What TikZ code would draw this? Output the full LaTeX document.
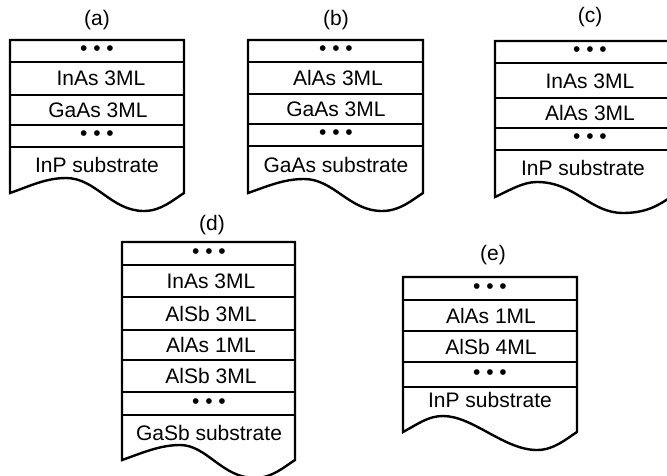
\documentclass[tikz,border=0pt]{standalone}
\usepackage{fontspec}
\setmainfont{Liberation Sans}
\usepackage{tikz}

\tikzset{
  layer/.style={line width=2.4pt, line join=miter},
  lbl/.style={font=\fontsize{21}{25}\selectfont, inner sep=0pt}
}

\begin{document}
\begin{tikzpicture}[x=1pt,y=-1pt]
				\useasboundingbox (0,0) rectangle (667,475);
				
				% (a)
				\begin{scope}[shift={(10,40)}]
				\node[lbl] (a-title) at (87,-20) {(a)};
				\draw[layer] (0,153) -- (0,0) -- (174,0) -- (174,153) .. controls (163,160) and (151,171) .. (134,171) .. controls (101,171) and (86,138) .. (56,138) .. controls (36,138) and (20,146) .. (0,153) -- cycle;
				\draw[layer] (0,22) -- (174,22);
				\draw[layer] (0,55) -- (174,55);
				\draw[layer] (0,85) -- (174,85);
				\draw[layer] (0,107) -- (174,107);
				\node[lbl] (a-top) at (87,11) {• • •};
				\node[lbl] (a-inas) at (91,38.5) {InAs 3ML};
				\node[lbl] (a-gaas) at (88,70) {GaAs 3ML};
				\node[lbl] (a-mid) at (87,96) {• • •};
				\node[lbl] (a-sub) at (87,125) {InP substrate};
				\end{scope}
				
				% (b)
				\begin{scope}[shift={(248,40)}]
				\node[lbl] (b-title) at (88,-20) {(b)};
				\draw[layer] (0,153) -- (0,0) -- (175,0) -- (175,153) .. controls (164,160) and (152,171) .. (134,171) .. controls (101,171) and (86,139) .. (56,139) .. controls (36,139) and (20,146) .. (0,153) -- cycle;
				\draw[layer] (0,22) -- (175,22);
				\draw[layer] (0,54) -- (175,54);
				\draw[layer] (0,84) -- (175,84);
				\draw[layer] (0,106) -- (175,106);
				\node[lbl] (b-top) at (88,11) {• • •};
				\node[lbl] (b-alas) at (90,38) {AlAs 3ML};
				\node[lbl] (b-gaas) at (88,69) {GaAs 3ML};
				\node[lbl] (b-mid) at (88,95) {• • •};
				\node[lbl] (b-sub) at (88,125) {GaAs substrate};
				\end{scope}
				
				% (c)
				\begin{scope}[shift={(495,41)}]
				\node[lbl] (c-title) at (95,-24) {(c)};
				\draw[layer] (0,156) -- (0,0) -- (176,0) -- (176,156) .. controls (165,163) and (153,172) .. (128,172) .. controls (95,172) and (80,141) .. (42,141) .. controls (28,141) and (15,149) .. (0,156) -- cycle;
				\draw[layer] (0,22) -- (176,22);
				\draw[layer] (0,57) -- (176,57);
				\draw[layer] (0,87) -- (176,87);
				\draw[layer] (0,109) -- (176,109);
				\node[lbl] (c-top) at (95,11) {• • •};
				\node[lbl] (c-inas) at (95,40) {InAs 3ML};
				\node[lbl] (c-alas) at (95,72) {AlAs 3ML};
				\node[lbl] (c-mid) at (95,98) {• • •};
				\node[lbl] (c-sub) at (88,127) {InP substrate};
				\end{scope}
				
				% (d)
				\begin{scope}[shift={(122,242)}]
				\node[lbl] (d-title) at (90,-17) {(d)};
				\draw[layer] (0,218) -- (0,0) -- (173,0) -- (173,218) .. controls (162,225) and (150,236) .. (133,236) .. controls (100,236) and (85,203) .. (58,203) .. controls (38,203) and (20,211) .. (0,218) -- cycle;
				\draw[layer] (0,23) -- (173,23);
				\draw[layer] (0,55) -- (173,55);
				\draw[layer] (0,88) -- (173,88);
				\draw[layer] (0,118) -- (173,118);
				\draw[layer] (0,150) -- (173,150);
				\draw[layer] (0,173) -- (173,173);
				\node[lbl] (d-top) at (87,11.5) {• • •};
				\node[lbl] (d-inas) at (89,39) {InAs 3ML};
				\node[lbl] (d-alsb1) at (89,71.5) {AlSb 3ML};
				\node[lbl] (d-alas) at (89,103) {AlAs 1ML};
				\node[lbl] (d-alsb2) at (89,134) {AlSb 3ML};
				\node[lbl] (d-mid) at (87,161.5) {• • •};
				\node[lbl] (d-sub) at (87,191) {GaSb substrate};
				\end{scope}
				
				% (e)
				\begin{scope}[shift={(403,277)}]
				\node[lbl] (e-title) at (90,-22) {(e)};
				\draw[layer] (0,155) -- (0,0) -- (174,0) -- (174,155) .. controls (163,162) and (151,173) .. (134,173) .. controls (101,173) and (70,139) .. (40,139) .. controls (25,139) and (15,147) .. (0,155) -- cycle;
				\draw[layer] (0,23) -- (174,23);
				\draw[layer] (0,54) -- (174,54);
				\draw[layer] (0,85) -- (174,85);
				\draw[layer] (0,110) -- (174,110);
				\node[lbl] (e-top) at (87,11.5) {• • •};
				\node[lbl] (e-alas) at (88,38.5) {AlAs 1ML};
				\node[lbl] (e-alsb) at (88,69.5) {AlSb 4ML};
				\node[lbl] (e-mid) at (87,97.5) {• • •};
				\node[lbl] (e-sub) at (87,123) {InP substrate};
				\end{scope}
			\end{tikzpicture}
\end{document}
